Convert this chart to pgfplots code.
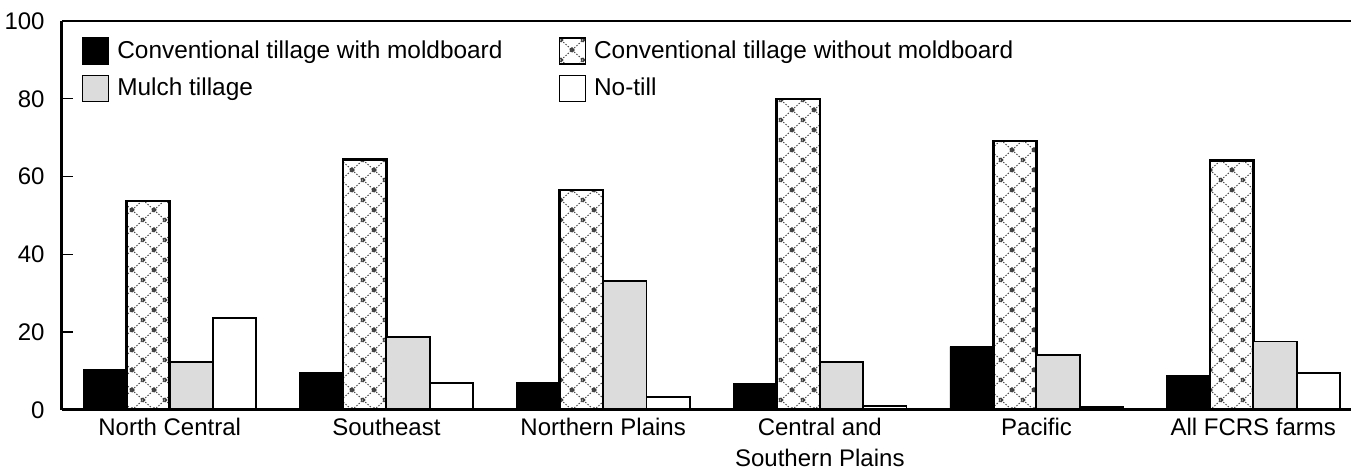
\documentclass[border=0pt]{standalone}
\usepackage{pgfplots}
\pgfplotsset{compat=1.18}
\usetikzlibrary{patterns}
\usepackage{fontspec}
\setmainfont{Liberation Sans}

\pgfdeclarepatternformonly{diamondx}{\pgfpoint{-1pt}{-1pt}}{\pgfpoint{12pt}{11pt}}{\pgfpoint{11pt}{10pt}}{%
  \pgfsetlinewidth{0.45pt}%
  \pgfsetdash{{0.7pt}{0.8pt}}{0pt}%
  \pgfpathmoveto{\pgfpointorigin}\pgfpathlineto{\pgfpoint{11pt}{10pt}}%
  \pgfpathmoveto{\pgfpoint{0pt}{10pt}}\pgfpathlineto{\pgfpoint{11pt}{0pt}}%
  \pgfusepath{stroke}%
  \pgfsetdash{}{0pt}%
  \pgfsetlinewidth{0.5pt}%
  \pgfpathcircle{\pgfpoint{5.5pt}{5pt}}{0.9pt}%
  \pgfpathcircle{\pgfpoint{0pt}{0pt}}{0.9pt}%
  \pgfpathcircle{\pgfpoint{11pt}{0pt}}{0.9pt}%
  \pgfpathcircle{\pgfpoint{0pt}{10pt}}{0.9pt}%
  \pgfpathcircle{\pgfpoint{11pt}{10pt}}{0.9pt}%
  \pgfusepath{stroke}%
}

\definecolor{mulch}{HTML}{DCDCDC}

\begin{document}
\begin{tikzpicture}
\useasboundingbox (-31pt,-30pt) rectangle (644.5pt,205pt);
\begin{axis}[
  scale only axis,
  width=644.5pt, height=194.5pt,
  at={(0pt,0pt)}, anchor=south west,
  xmin=-0.497, xmax=5.451,
  ymin=0, ymax=100,
  ybar, bar width=0.2,
  axis on top,
  axis x line*=bottom, axis y line*=left,
  axis line style={-, line width=1.5pt},
  xtick=data,
  xticklabels={North Central, Southeast, Northern Plains, {Central and\\Southern Plains}, Pacific, All FCRS farms},
  major x tick style={draw=none},
  ytick={0,20,40,60,80,100},
  tick align=inside,
  major tick length=5.5pt,
  major y tick style={line width=0.7pt, black},
  /pgf/number format/assume math mode=true,
  tick label style={font=\fontsize{12}{15.6}\selectfont},
  xticklabel style={align=center, inner sep=0pt, anchor=north, yshift=-3.8pt},
  yticklabel style={inner sep=0pt, anchor=east, xshift=-8.5pt},
  legend columns=2,
  legend cell align=left,
  legend style={
    at={(rel axis cs:0.0153,0.958)}, anchor=north west,
    draw=none, fill=none, inner sep=0pt, outer sep=0pt,
    font=\fontsize{12.2}{16}\selectfont,
    row sep=5pt,
    nodes={inner sep=0pt, anchor=west},
    /tikz/every odd column/.append style={column sep=4.2pt},
    /tikz/every even column/.append style={column sep=28pt},
  },
  legend image code/.code={\draw[#1, line width=0.6pt] (0pt,-6.5pt) rectangle (13pt,6.5pt);},
]
\addplot[fill=black, draw=black, line width=0.3pt, bar shift=-0.3] coordinates {(0,10.5) (1,9.7) (2,7.1) (3,6.8) (4,16.3) (5,8.9)};
\addplot[pattern=diamondx, pattern color=black!75, draw=black, line width=1.3pt, bar shift=-0.1] coordinates {(0,53.7) (1,64.4) (2,56.6) (3,79.9) (4,69.1) (5,64.1)};
\addplot[fill=mulch, draw=black, line width=0.9pt, bar shift=0.1] coordinates {(0,12.4) (1,18.8) (2,33.1) (3,12.3) (4,14.2) (5,17.6)};
\addplot[fill=white, draw=black, line width=0.9pt, bar shift=0.3] coordinates {(0,23.6) (1,7.0) (2,3.3) (3,1.1) (4,0.7) (5,9.5)};
\legend{Conventional tillage with moldboard, Conventional tillage without moldboard, Mulch tillage, No-till}
\draw[line width=1.5pt] (rel axis cs:0,1) -- (rel axis cs:1,1);
\end{axis}
\end{tikzpicture}
\end{document}
